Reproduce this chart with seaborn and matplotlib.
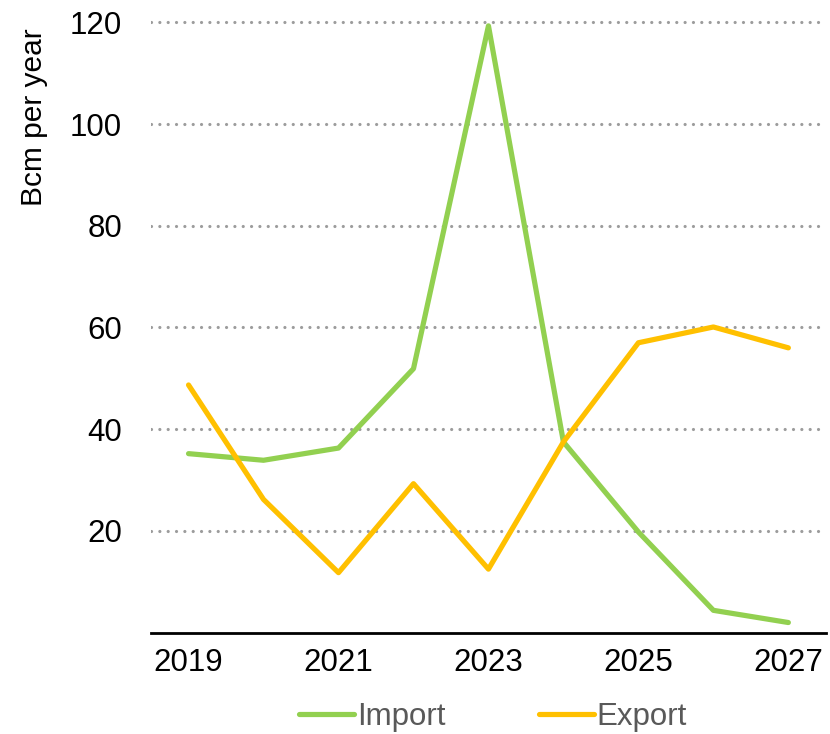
import matplotlib.pyplot as plt
import pandas as pd
import seaborn as sns

# Values
years = [2019, 2020, 2021, 2022, 2023, 2024, 2025, 2026, 2027]
import_bcm = [35.2, 33.9, 36.3, 51.9, 119.3, 37.5, 19.8, 4.4, 2.0]
export_bcm = [48.7, 26.2, 11.8, 29.3, 12.5, 37.5, 57.0, 60.1, 56.0]
series_names = ["Import", "Export"]
series_colors = ["#92d050", "#ffc000"]

df = pd.DataFrame({
    "year": years * 2,
    "value": import_bcm + export_bcm,
    "series": [series_names[0]] * len(years) + [series_names[1]] * len(years),
})

sns.set_theme(style="white")
plt.rcParams["font.family"] = ["Liberation Sans", "DejaVu Sans"]

fig = plt.figure(figsize=(8.3, 7.34), dpi=100)
ax = fig.add_axes([0.182, 0.138, 0.813, 0.8455])

sns.lineplot(
    data=df, x="year", y="value", hue="series",
    palette=dict(zip(series_names, series_colors)),
    linewidth=3.75, solid_capstyle="round", ax=ax, legend=False,
)

ax.set_xlim(2018.5, 2027.5)
ax.set_ylim(0, 122)
ax.set_yticks([20, 40, 60, 80, 100, 120])
ax.set_xticks([2019, 2021, 2023, 2025, 2027])
ax.yaxis.grid(True, linestyle=(0, (0.01, 2.6)), color="#9c9c9c",
              linewidth=2.3, dash_capstyle="round")
ax.set_axisbelow(True)
for side in ["top", "right", "left"]:
    ax.spines[side].set_visible(False)
ax.spines["bottom"].set_color("black")
ax.spines["bottom"].set_linewidth(2)
ax.tick_params(axis="both", length=0, labelsize=22.5, colors="black")
ax.tick_params(axis="y", pad=21)
ax.tick_params(axis="x", pad=11)
ax.set_xlabel("")
ax.set_ylabel("Bcm per year", fontsize=21.5, color="black")
ax.yaxis.set_label_coords(-0.153, 0.83)

handles = [plt.Line2D([0], [0], color=c, linewidth=3.75, solid_capstyle="round") for c in series_colors]
fig.legend(
    handles, series_names, loc="center", bbox_to_anchor=(0.594, 0.023),
    ncol=2, frameon=False, fontsize=22.5, labelcolor="#595959",
    handlelength=1.75, handletextpad=0.1, columnspacing=3.0,
    borderpad=0, borderaxespad=0,
)

fig.savefig("out.png", dpi=100)
